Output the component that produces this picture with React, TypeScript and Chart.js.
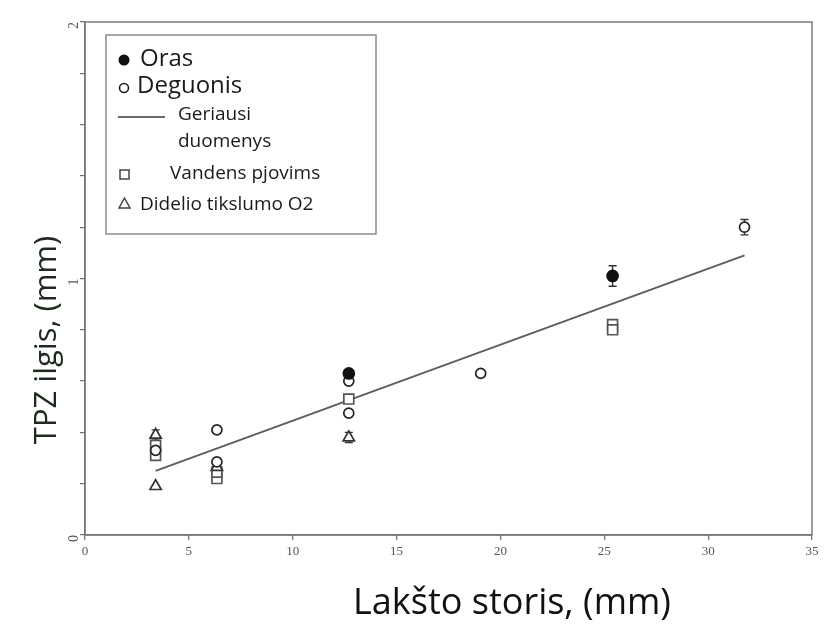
import React, { useEffect, useRef } from "react";
import { Chart, registerables } from "chart.js";

Chart.register(...registerables);

// ---- data ----
const xTickValues = [0, 5, 10, 15, 20, 25, 30, 35];
const yLabelValues = [0, 1, 2];

const orasX = [12.7, 25.4];
const orasY = [0.63, 1.01];
const orasErr = [0.01, 0.04];

const deguonisX = [3.4, 6.35, 6.35, 12.7, 12.7, 19.05, 31.75];
const deguonisY = [0.33, 0.41, 0.285, 0.6, 0.475, 0.63, 1.2];
const deguonisErr = [0, 0, 0, 0.01, 0, 0, 0.03];

const vandensX = [3.4, 3.4, 6.35, 6.35, 12.7, 25.4, 25.4];
const vandensY = [0.35, 0.31, 0.22, 0.245, 0.53, 0.82, 0.8];

const tikslumoX = [3.4, 3.4, 6.35, 12.7];
const tikslumoY = [0.39, 0.19, 0.265, 0.38];
const tikslumoErr = [0.02, 0, 0.01, 0.02];

const fitX = [3.4, 31.75];
const fitY = [0.25, 1.09];

const seriesLabels = ["Oras", "Deguonis", "Geriausi duomenys", "Vandens pjovims", "Didelio tikslumo O2"];
const xTitle = "Lakšto storis, (mm)";
const yTitle = "TPZ ilgis, (mm)";

const pts = (xs: number[], ys: number[]) => xs.map((x, i) => ({ x, y: ys[i] }));

const INK = "#1a1a1a";
const SANS = "'Open Sans', 'Noto Sans', sans-serif";

const overlay = {
  id: "overlay",
  beforeDatasetsDraw(chart: any) {
    const { ctx, scales } = chart;
    const xs = scales.x, ys = scales.y;
    ctx.save();
    ctx.strokeStyle = "#333";
    ctx.lineWidth = 1.4;
    chart.data.datasets.forEach((ds: any) => {
      if (!ds.errs) return;
      ds.data.forEach((p: any, i: number) => {
        const e = ds.errs[i];
        if (!e) return;
        const px = xs.getPixelForValue(p.x);
        const t = ys.getPixelForValue(p.y + e);
        const b = ys.getPixelForValue(p.y - e);
        ctx.beginPath();
        ctx.moveTo(px, t); ctx.lineTo(px, b);
        ctx.moveTo(px - 4, t); ctx.lineTo(px + 4, t);
        ctx.moveTo(px - 4, b); ctx.lineTo(px + 4, b);
        ctx.stroke();
      });
    });
    ctx.restore();
  },
  afterDraw(chart: any) {
    const { ctx, chartArea } = chart;
    ctx.save();
    // frame
    ctx.strokeStyle = "#7a7a7a";
    ctx.lineWidth = 1.5;
    ctx.strokeRect(chartArea.left, chartArea.top, chartArea.right - chartArea.left, chartArea.bottom - chartArea.top);

    // legend box
    ctx.fillStyle = "#ffffff";
    ctx.fillRect(106, 35, 270, 199);
    ctx.strokeStyle = "#8a8a8a";
    ctx.lineWidth = 1.5;
    ctx.strokeRect(106, 35, 270, 199);

    ctx.textBaseline = "middle";
    ctx.textAlign = "left";
    ctx.fillStyle = INK;
    // Oras
    ctx.beginPath(); ctx.arc(124, 60, 5.5, 0, Math.PI * 2); ctx.fillStyle = "#111"; ctx.fill();
    ctx.fillStyle = INK; ctx.font = `24px ${SANS}`;
    ctx.fillText(seriesLabels[0], 140, 59);
    // Deguonis
    ctx.beginPath(); ctx.arc(124, 88, 4.5, 0, Math.PI * 2); ctx.strokeStyle = "#222"; ctx.lineWidth = 1.6; ctx.stroke();
    ctx.fillText(seriesLabels[1], 137, 86);
    // line
    ctx.beginPath(); ctx.moveTo(118, 117); ctx.lineTo(165, 117); ctx.strokeStyle = "#6b6b6b"; ctx.lineWidth = 2; ctx.stroke();
    ctx.font = `19px ${SANS}`;
    const parts = seriesLabels[2].split(" ");
    ctx.fillText(parts[0], 178, 115);
    ctx.fillText(parts[1], 178, 142);
    // square
    ctx.strokeStyle = "#444"; ctx.lineWidth = 1.5;
    ctx.strokeRect(120, 170, 9, 9);
    ctx.fillText(seriesLabels[3], 170, 174);
    // triangle
    ctx.beginPath(); ctx.moveTo(124.5, 198); ctx.lineTo(130, 208); ctx.lineTo(119, 208); ctx.closePath(); ctx.stroke();
    ctx.fillText(seriesLabels[4], 140, 205);

    // axis titles
    ctx.fillStyle = "#111";
    ctx.textAlign = "center";
    ctx.font = `36px ${SANS}`;
    ctx.fillText(xTitle, 512, 604);
    ctx.save();
    ctx.translate(47, 340);
    ctx.rotate(-Math.PI / 2);
    ctx.fillStyle = "#1e2a1e";
    ctx.font = `31px ${SANS}`;
    ctx.fillText(yTitle, 0, 0);
    ctx.restore();
    ctx.restore();
  },
};

export default function App() {
  const ref = useRef<HTMLCanvasElement | null>(null);
  useEffect(() => {
    if (!ref.current) return;
    const markerCommon = { showLine: false, borderColor: "#222", pointBorderWidth: 1.7 };
    const chart = new Chart(ref.current, {
      type: "scatter",
      data: {
        datasets: [
          {
            label: seriesLabels[2],
            data: pts(fitX, fitY),
            showLine: true,
            borderColor: "#5e5e5e",
            borderWidth: 2,
            pointRadius: 0,
            order: 5,
          } as any,
          {
            ...markerCommon,
            label: seriesLabels[3],
            data: pts(vandensX, vandensY),
            pointStyle: "rect",
            pointRadius: 7,
            backgroundColor: "#ffffff",
            borderColor: "#555",
            order: 4,
          } as any,
          {
            ...markerCommon,
            label: seriesLabels[4],
            data: pts(tikslumoX, tikslumoY),
            errs: tikslumoErr,
            pointStyle: "triangle",
            pointRadius: 6.5,
            backgroundColor: "#ffffff",
            borderColor: "#333",
            order: 3,
          } as any,
          {
            ...markerCommon,
            label: seriesLabels[1],
            data: pts(deguonisX, deguonisY),
            errs: deguonisErr,
            pointStyle: "circle",
            pointRadius: 5,
            backgroundColor: "#ffffff",
            order: 2,
          } as any,
          {
            ...markerCommon,
            label: seriesLabels[0],
            data: pts(orasX, orasY),
            errs: orasErr,
            pointStyle: "circle",
            pointRadius: 5.5,
            backgroundColor: "#111",
            borderColor: "#111",
            order: 1,
          } as any,
        ],
      },
      options: {
        animation: false,
        responsive: false,
        devicePixelRatio: 1,
        layout: { padding: { top: 22, right: 24, left: 0, bottom: 0 } },
        plugins: { legend: { display: false }, tooltip: { enabled: false } },
        scales: {
          x: {
            type: "linear",
            min: 0,
            max: 35,
            afterFit: (s: any) => { s.height = 93; },
            afterBuildTicks: (s: any) => { s.ticks = xTickValues.map((v) => ({ value: v })); },
            border: { display: true, color: "#6f6f6f", width: 1.5 },
            grid: { drawOnChartArea: false, drawTicks: true, tickLength: 5, color: "#6f6f6f", lineWidth: 1.2 },
            ticks: {
              color: "#555",
              padding: 4,
              maxRotation: 0,
              font: { family: "'Liberation Serif', serif", size: 13 },
              callback: (v: any) => String(v),
            },
          },
          y: {
            type: "linear",
            min: 0,
            max: 2,
            afterFit: (s: any) => { s.width = 85; },
            border: { display: true, color: "#6f6f6f", width: 1.5 },
            grid: { drawOnChartArea: false, drawTicks: true, tickLength: 5, color: "#6f6f6f", lineWidth: 1.2 },
            ticks: {
              stepSize: 0.2,
              color: "#555",
              padding: 6,
              minRotation: 90,
              maxRotation: 90,
              font: { family: "'Liberation Serif', serif", size: 14 },
              callback: (v: any) => {
                const r = Math.round(v * 1000) / 1000;
                return yLabelValues.includes(r) ? String(r) : "";
              },
            },
          },
        },
      } as any,
      plugins: [overlay],
    });
    return () => chart.destroy();
  }, []);
  return (
    <div style={{ position: "absolute", left: 0, top: 0, width: 836, height: 628, background: "#fff" }}>
      <canvas ref={ref} width={836} height={628} />
    </div>
  );
}
